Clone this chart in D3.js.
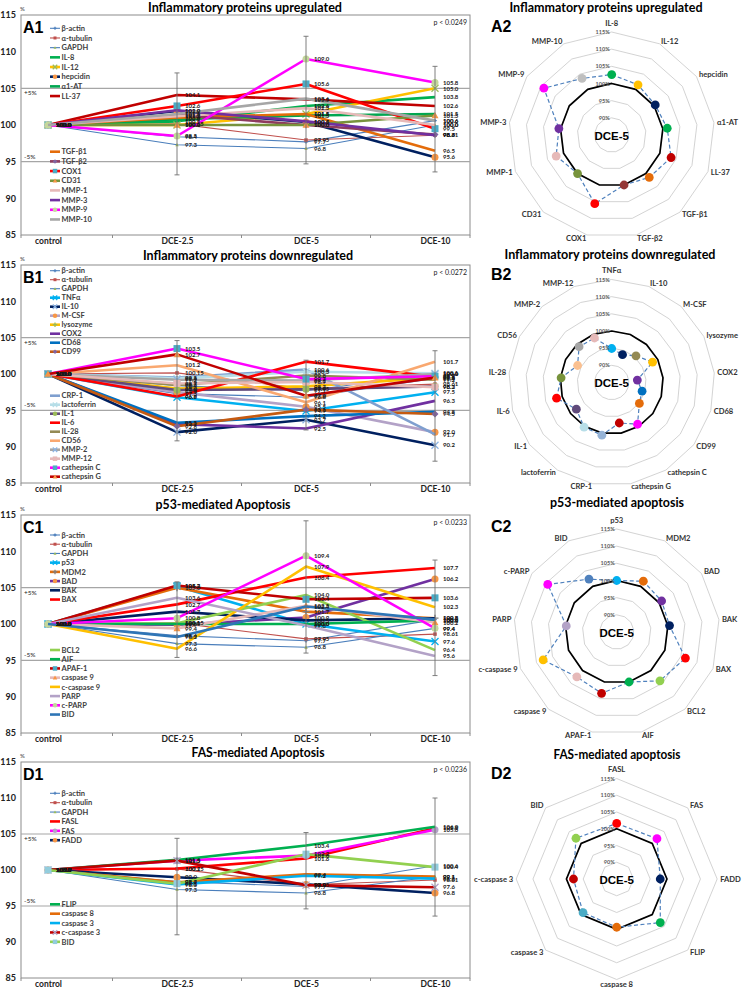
<!DOCTYPE html>
<html>
<head>
<meta charset="utf-8">
<script src="https://cdn.jsdelivr.net/npm/d3@7"></script>
<style>
html,body{margin:0;padding:0;background:#fff;}
svg{display:block;}
</style>
</head>
<body>
<svg id="chart" width="742" height="992"></svg>
<script>
// ================= DATA =================
const categories = ["control", "DCE-2.5", "DCE-5", "DCE-10"];
const yTickValues = [85, 90, 95, 100, 105, 110, 115];
const ringValues = [90, 95, 100, 105, 110, 115];
const ringLabels = ["90%", "95%", "100%", "105%", "110%", "115%"];

// ---- A: inflammatory proteins upregulated ----
const namesA = ["β-actin","α-tubulin","GAPDH","IL-8","IL-12","hepcidin","α1-AT","LL-37",
                "TGF-β1","TGF-β2","COX1","CD31","MMP-1","MMP-3","MMP-9","MMP-10"];
const valuesA = [
  [100, 98.4, 97.7, 100.6],
  [100, 100.15, 97.95, 98.61],
  [100, 97.3, 96.8, 100.0],
  [100, 100.5, 102.6, 103.8],
  [100, 100.0, 101.5, 105.0],
  [100, 101.9, 100.4, 95.6],
  [100, 100.8, 101.3, 101.5],
  [100, 104.1, 103.5, 102.6],
  [100, 101.0, 101.5, 96.5],
  [100, 101.4, 100.0, 98.7],
  [100, 102.6, 105.6, 99.5],
  [100, 100.0, 100.0, 101.3],
  [100, 101.2, 102.3, 100.0],
  [100, 102.0, 100.5, 98.6],
  [100, 98.5, 109.0, 105.8],
  [100, 101.5, 103.6, 100.6]
];
const errLowA = [null, 93.2, 94.7, 93.6];
const errHighA = [null, 107.1, 112.1, 108.0];
const pTextA = "p < 0.0249";
const radarAxesA = ["IL-8","IL-12","hepcidin","α1-AT","LL-37","TGF-β1","TGF-β2","COX1","CD31","MMP-1","MMP-3","MMP-9","MMP-10"];

// ---- B: inflammatory proteins downregulated ----
const namesB = ["β-actin","α-tubulin","GAPDH","TNFα","IL-10","M-CSF","lysozyme","COX2","CD68","CD99",
                "CRP-1","lactoferrin","IL-1","IL-6","IL-28","CD56","MMP-2","MMP-12","cathepsin C","cathepsin G"];
const valuesB = [
  [100, 98.4, 97.7, 100.0],
  [100, 100.15, 97.95, 98.61],
  [100, 97.3, 96.8, 99.4],
  [100, 96.8, 94.9, 97.5],
  [100, 92.0, 93.7, 90.2],
  [100, 97.5, 95.5, 92.0],
  [100, 98.0, 98.3, 99.5],
  [100, 93.1, 92.5, 96.3],
  [100, 93.3, 94.2, 94.8],
  [100, 92.8, 95.1, 94.5],
  [100, 99.5, 100.6, 91.7],
  [100, 99.4, 100.3, 100.1],
  [100, 97.8, 97.9, 98.3],
  [100, 96.9, 101.7, 99.6],
  [100, 98.5, 99.8, 99.2],
  [100, 101.2, 96.1, 101.7],
  [100, 99.2, 99.1, 100.0],
  [100, 98.7, 98.9, 98.2],
  [100, 103.5, 99.3, 99.7],
  [100, 102.7, 97.0, 99.5]
];
const errLowB = [null, 90.8, 92.3, 88.0];
const errHighB = [null, 104.6, 101.9, 103.2];
const pTextB = "p < 0.0272";
const radarAxesB = ["TNFα","IL-10","M-CSF","lysozyme","COX2","CD68","CD99","cathepsin C","cathepsin G",
                    "CRP-1","lactoferrin","IL-1","IL-6","IL-28","CD56","MMP-2","MMP-12"];

// ---- C: p53-mediated apoptosis ----
const namesC = ["β-actin","α-tubulin","GAPDH","p53","MDM2","BAD","BAK","BAX",
                "BCL2","AIF","APAF-1","caspase 9","c-caspase 9","PARP","c-PARP","BID"];
const valuesC = [
  [100, 98.4, 97.7, 100.6],
  [100, 100.15, 97.95, 98.61],
  [100, 97.3, 96.8, 99.4],
  [100, 105.2, 100.0, 97.6],
  [100, 105.0, 101.7, 100.8],
  [100, 99.9, 100.9, 106.2],
  [100, 101.7, 100.5, 100.8],
  [100, 102.7, 106.4, 107.7],
  [100, 100.1, 104.0, 96.4],
  [100, 100.0, 100.0, 100.5],
  [100, 105.3, 103.4, 103.6],
  [100, 99.4, 102.5, 100.2],
  [100, 96.6, 107.9, 102.3],
  [100, 103.6, 99.8, 95.6],
  [100, 100.8, 109.4, 99.4],
  [100, 98.2, 102.4, 100.6]
];
const errLowC = [null, 95.4, 96.0, 92.9];
const errHighC = [null, 105.8, 114.2, 108.8];
const pTextC = "p < 0.0233";
const radarAxesC = ["p53","MDM2","BAD","BAK","BAX","BCL2","AIF","APAF-1","caspase 9","c-caspase 9","PARP","c-PARP","BID"];

// ---- D: FAS-mediated apoptosis ----
const namesD = ["β-actin","α-tubulin","GAPDH","FASL","FAS","FADD",
                "FLIP","caspase 8","caspase 3","c-caspase 3","BID"];
const valuesD = [
  [100, 98.4, 97.7, 100.6],
  [100, 100.15, 97.95, 98.61],
  [100, 97.3, 96.8, 99.1],
  [100, 100.2, 101.6, 105.8],
  [100, 101.3, 102.0, 105.6],
  [100, 99.0, 98.0, 96.8],
  [100, 101.4, 103.4, 106.0],
  [100, 98.3, 99.4, 99.1],
  [100, 98.0, 99.2, 98.8],
  [100, 101.3, 97.9, 97.6],
  [100, 98.1, 102.2, 100.4]
];
const errLowD = [null, 91.0, 94.6, 93.6];
const errHighD = [null, 104.4, 105.2, 110.0];
const pTextD = "p < 0.0236";
const radarAxesD = ["FASL","FAS","FADD","FLIP","caspase 8","caspase 3","c-caspase 3","BID"];

// ================= STYLES =================
const lineColorsA = ["#4F81BD","#C0504D","#4A7EBB","#00B050","#FFC000","#002060","#00A650","#C00000",
                     "#E46C0A","#8E3B5E","#FF0000","#77933C","#E6B9B8","#7030A0","#FF00FF","#A6A6A6"];
const markersA = ["plus","square","triangle",null,"x","circle",null,null,null,"diamond","square","triangle",null,null,"circle",null];
const markerColorsA = ["#4F81BD","#C0504D","#9BBB59",null,"#9BBB59","#F79646",null,null,null,"#8064A2","#4BACC6","#F79646",null,null,"#C4D79B",null];
const dotColorsA = ["#00B050","#FFC000","#002060","#00B050","#C00000","#E46C0A","#953735","#FF0000","#77933C","#E6B9B8","#7030A0","#FF00FF","#BFBFBF"];

const lineColorsB = ["#4F81BD","#C0504D","#4A7EBB","#00B0F0","#002060","#B3A2C7","#FFC000","#7030A0","#0070C0","#C55A11",
                     "#7F9FCF","#B7DEE8","#604A7B","#FF0000","#948A54","#F9A870","#A6A6A6","#E6B9B8","#FF00FF","#C00000"];
const markersB = ["plus","square","triangle","x","x","circle","plus",null,null,"diamond",
                  null,"x","circle",null,null,null,"x","square","square","triangle"];
const markerColorsB = ["#4F81BD","#C0504D","#9BBB59","#00B0F0","#8DB4E2","#F79646","#9BBB59",null,null,"#8064A2",
                       null,"#B7DEE8","#9BBB59",null,null,null,"#8DB4E2","#E6B9B8","#4BACC6","#F79646"];
const dotColorsB = ["#00B0F0","#002060","#948A54","#FFC000","#7030A0","#0070C0","#E46C0A","#FF00FF","#C00000",
                    "#95B3D7","#B7DEE8","#604A7B","#FF0000","#77933C","#FAC090","#A6A6A6","#E6B9B8"];

const lineColorsC = ["#4F81BD","#C0504D","#4A7EBB","#00B0F0","#E46C0A","#7030A0","#002060","#FF0000",
                     "#92D050","#00B050","#C00000","#E6B9B8","#FFC000","#B3A2C7","#FF00FF","#2E75B6"];
const markersC = ["plus","square","triangle","x","plus","circle",null,null,null,null,"square","triangle",null,null,"circle",null];
const markerColorsC = ["#4F81BD","#C0504D","#9BBB59","#00B0F0","#7F7F7F","#F79646",null,null,null,null,"#4BACC6","#F79646",null,null,"#C4D79B",null];
const dotColorsC = ["#00B0F0","#E46C0A","#7030A0","#002060","#FF0000","#92D050","#00B050","#C00000","#E6B9B8","#FFC000","#B3A2C7","#FF00FF","#4F81BD"];

const lineColorsD = ["#4F81BD","#C0504D","#4A7EBB","#FF0000","#FF00FF","#002060","#00B050","#E46C0A","#00B0F0","#C00000","#92D050"];
const markersD = ["plus","square","triangle",null,"circle","circle",null,null,null,"x","square"];
const markerColorsD = ["#4F81BD","#C0504D","#9BBB59",null,"#B3A2C7","#F79646",null,null,null,"#B3A2C7","#93CDDD"];
const dotColorsD = ["#FF0000","#FF00FF","#002060","#00B050","#E46C0A","#4BACC6","#C00000","#92D050"];

// ================= DRAWING =================
const svg = d3.select("#chart");
const SANS = "Lato, 'Open Sans', sans-serif";
const ARIAL = "'Liberation Sans', Arial, sans-serif";

function drawMarker(g, type, x, y, color, s) {
  if (!type) return;
  const h = s / 2;
  if (type === "circle") {
    g.append("circle").attr("cx", x).attr("cy", y).attr("r", h).attr("fill", color);
  } else if (type === "square") {
    g.append("rect").attr("x", x - h).attr("y", y - h).attr("width", s).attr("height", s).attr("fill", color);
  } else if (type === "triangle") {
    g.append("path").attr("d", `M${x},${y - h}L${x + h},${y + h * 0.8}L${x - h},${y + h * 0.8}Z`).attr("fill", color);
  } else if (type === "diamond") {
    g.append("path").attr("d", `M${x},${y - h}L${x + h},${y}L${x},${y + h}L${x - h},${y}Z`).attr("fill", color);
  } else if (type === "x") {
    g.append("path").attr("d", `M${x - h},${y - h}L${x + h},${y + h}M${x - h},${y + h}L${x + h},${y - h}`)
      .attr("stroke", color).attr("stroke-width", 1.3).attr("fill", "none");
  } else if (type === "plus") {
    g.append("path").attr("d", `M${x - h},${y}L${x + h},${y}M${x},${y - h}L${x},${y + h}`)
      .attr("stroke", color).attr("stroke-width", 1.3).attr("fill", "none");
  }
}

function fmt(v) {
  return Math.abs(v * 10 - Math.round(v * 10)) < 1e-6 ? v.toFixed(1) : v.toFixed(2);
}

function fitTitle(g, txt, cx, baseline, w, size) {
  const t = g.append("text").attr("x", cx).attr("y", baseline).attr("text-anchor", "middle")
    .attr("font-family", SANS).attr("font-weight", "bold").attr("font-size", size).attr("fill", "#000").text(txt);
  t.attr("textLength", w).attr("lengthAdjust", "spacingAndGlyphs");
}

function linePanel(cfg) {
  const { top, height, names, values, colors, markers, markerColors, errLow, errHigh,
          pText, label, legY, legStep, split, title, titleCx, titleW, titleY } = cfg;
  const left = 21, right = 470, bottom = top + height;
  const g = svg.append("g");
  const y = d3.scaleLinear().domain([85, 115]).range([bottom, top]);
  const x = d3.scalePoint().domain(categories).range([48, 435]);

  fitTitle(g, title, titleCx, titleY, titleW, 12.5);

  // frame
  g.append("rect").attr("x", left).attr("y", top).attr("width", right - left).attr("height", height)
    .attr("fill", "none").attr("stroke", "#8c8c8c").attr("stroke-width", 1);
  // +-5% lines
  [105, 95].forEach(v => g.append("line").attr("x1", left).attr("x2", right)
    .attr("y1", y(v)).attr("y2", y(v)).attr("stroke", "#a6a6a6").attr("stroke-width", 1.1));
  g.append("text").attr("x", 24).attr("y", y(105) + 7).attr("font-family", SANS).attr("font-size", 6.5).attr("fill", "#222").text("+5%");
  g.append("text").attr("x", 24).attr("y", y(95) - 3).attr("font-family", SANS).attr("font-size", 6.5).attr("fill", "#222").text("-5%");

  // y axis
  const ya = g.append("g").attr("transform", `translate(${left},0)`)
    .call(d3.axisLeft(y).tickValues(yTickValues).tickSize(0).tickPadding(5));
  ya.select(".domain").remove();
  ya.selectAll("text").attr("font-family", SANS).attr("font-weight", "bold").attr("font-size", 9).attr("fill", "#222");
  g.append("text").attr("x", 20).attr("y", top - 4).attr("font-family", SANS).attr("font-size", 6).attr("fill", "#333").text("%");

  // x axis
  const xa = g.append("g").attr("transform", `translate(0,${bottom})`)
    .call(d3.axisBottom(x).tickSize(0).tickPadding(3));
  xa.select(".domain").remove();
  xa.selectAll("text").attr("font-family", SANS).attr("font-weight", "bold").attr("font-size", 8.5).attr("fill", "#222");
  const step = x.step();
  [x(categories[0]) - 27, ...categories.slice(1).map(c => x(c) - step / 2), right].forEach(tx => {
    g.append("line").attr("x1", tx).attr("x2", tx).attr("y1", bottom).attr("y2", bottom + 3)
      .attr("stroke", "#8c8c8c").attr("stroke-width", 1);
  });

  // panel label and p value
  g.append("text").attr("x", 23).attr("y", top + 18).attr("font-family", ARIAL).attr("font-weight", "bold")
    .attr("font-size", 16).attr("fill", "#000").text(label);
  g.append("text").attr("x", right - 3).attr("y", top + 10).attr("text-anchor", "end").attr("font-family", SANS)
    .attr("font-size", 7).attr("fill", "#222").text(pText);

  // series
  const line = d3.line().x((d, i) => x(categories[i])).y(d => y(d));
  const sg = g.append("g");
  values.forEach((vals, si) => {
    const thin = si < 3;
    sg.append("path").attr("d", line(vals)).attr("fill", "none").attr("stroke", colors[si])
      .attr("stroke-width", thin ? 1.1 : 2.6).attr("stroke-linejoin", "round");
    vals.forEach((v, i) => drawMarker(sg, markers[si], x(categories[i]), y(v), markerColors[si], thin ? 3.5 : 7));
  });

  // error bars
  categories.forEach((c, i) => {
    if (errLow[i] == null) return;
    const cx = x(c);
    g.append("line").attr("x1", cx).attr("x2", cx).attr("y1", y(errLow[i])).attr("y2", y(errHigh[i]))
      .attr("stroke", "#6f6f6f").attr("stroke-width", 0.9);
    [errLow[i], errHigh[i]].forEach(v => g.append("line").attr("x1", cx - 2.5).attr("x2", cx + 2.5)
      .attr("y1", y(v)).attr("y2", y(v)).attr("stroke", "#6f6f6f").attr("stroke-width", 0.9));
  });

  // data labels
  const lg = g.append("g");
  values.forEach(vals => vals.forEach((v, i) => {
    lg.append("text").attr("x", x(categories[i]) + 8).attr("y", y(v) + 2.2)
      .attr("font-family", SANS).attr("font-weight", "bold").attr("font-size", 6).attr("fill", "#1a1a1a").text(fmt(v));
  }));

  // legend
  names.forEach((n, si) => {
    const grp = si < split ? 0 : 1;
    const k = si < split ? si : si - split;
    const yy = legY[grp] + k * legStep;
    const thin = si < 3;
    g.append("line").attr("x1", 50).attr("x2", 60).attr("y1", yy).attr("y2", yy)
      .attr("stroke", colors[si]).attr("stroke-width", thin ? 1.1 : 2.6);
    drawMarker(g, markers[si], 55, yy, markerColors[si], thin ? 3 : 4.5);
    g.append("text").attr("x", 61.5).attr("y", yy + 2.7).attr("font-family", SANS).attr("font-weight", "bold")
      .attr("font-size", 7.5).attr("fill", "#404040").text(n);
  });
}

function radarPanel(cfg) {
  const { cx, cy, radius, axes, names, values, dotColors, title, titleCx, titleW, titleY, label, labelY } = cfg;
  const g = svg.append("g");
  const r = d3.scaleLinear().domain([85, 115]).range([0, radius]);
  const n = axes.length;
  const ang = i => -Math.PI / 2 + 2 * Math.PI * i / n;
  const pt = (i, v) => [cx + r(v) * Math.cos(ang(i)), cy + r(v) * Math.sin(ang(i))];
  const poly = d3.line().curve(d3.curveLinearClosed);
  const dce5 = categories.indexOf("DCE-5");
  const vals = axes.map(a => values[names.indexOf(a)][dce5]);

  fitTitle(g, title, titleCx, titleY, titleW, 12.5);
  g.append("text").attr("x", 491).attr("y", labelY).attr("font-family", ARIAL).attr("font-weight", "bold")
    .attr("font-size", 16).attr("fill", "#000").text(label);

  ringValues.forEach(v => g.append("path").attr("d", poly(axes.map((a, i) => pt(i, v))))
    .attr("fill", "none").attr("stroke", "#c8c8c8").attr("stroke-width", 0.8));
  g.append("path").attr("d", poly(axes.map((a, i) => pt(i, 100))))
    .attr("fill", "none").attr("stroke", "#000").attr("stroke-width", 1.7);
  g.append("path").attr("d", poly(vals.map((v, i) => pt(i, v))))
    .attr("fill", "none").attr("stroke", "#4F81BD").attr("stroke-width", 1.2).attr("stroke-dasharray", "4,2.5");
  vals.forEach((v, i) => {
    const [px, py] = pt(i, v);
    g.append("circle").attr("cx", px).attr("cy", py).attr("r", 4.4).attr("fill", dotColors[i]);
  });

  ringValues.forEach((v, k) => g.append("text").attr("x", cx - 2).attr("y", cy - r(v) + 2)
    .attr("text-anchor", "end").attr("font-family", SANS).attr("font-weight", "bold").attr("font-size", 5.5)
    .attr("fill", "#595959").text(ringLabels[k]));

  const Rl = radius + 3;
  axes.forEach((a, i) => {
    const an = ang(i);
    const c = Math.cos(an), s = Math.sin(an);
    const px = cx + Rl * c, py = cy + Rl * s;
    let anchor = "middle", by = py + 2.6;
    if (Math.abs(c) < 0.05) { by = s < 0 ? py - 3.5 : py + 4; }
    else anchor = c > 0 ? "start" : "end";
    g.append("text").attr("x", px).attr("y", by).attr("text-anchor", anchor).attr("font-family", SANS)
      .attr("font-weight", "bold").attr("font-size", 7.6).attr("fill", "#333").text(a);
  });

  g.append("text").attr("x", cx).attr("y", cy + 4.5).attr("text-anchor", "middle").attr("font-family", ARIAL)
    .attr("font-weight", "bold").attr("font-size", 11.5).attr("fill", "#000").text("DCE-5");
}

// ----- left line panels -----
linePanel({ top: 15, height: 220, names: namesA, values: valuesA, colors: lineColorsA, markers: markersA,
  markerColors: markerColorsA, errLow: errLowA, errHigh: errHighA, pText: pTextA, label: "A1",
  legY: [28.3, 151.7], legStep: 9.68, split: 8,
  title: "Inflammatory proteins upregulated", titleCx: 245, titleW: 194, titleY: 12 });
linePanel({ top: 265, height: 218, names: namesB, values: valuesB, colors: lineColorsB, markers: markersB,
  markerColors: markerColorsB, errLow: errLowB, errHigh: errHighB, pText: pTextB, label: "B1",
  legY: [270.7, 395.7], legStep: 9.0, split: 10,
  title: "Inflammatory proteins downregulated", titleCx: 248, titleW: 210, titleY: 260 });
linePanel({ top: 515, height: 218, names: namesC, values: valuesC, colors: lineColorsC, markers: markersC,
  markerColors: markerColorsC, errLow: errLowC, errHigh: errHighC, pText: pTextC, label: "C1",
  legY: [535, 650], legStep: 9.22, split: 8,
  title: "p53-mediated Apoptosis", titleCx: 223, titleW: 135, titleY: 508.5 });
linePanel({ top: 762, height: 216, names: namesD, values: valuesD, colors: lineColorsD, markers: markersD,
  markerColors: markerColorsD, errLow: errLowD, errHigh: errHighD, pText: pTextD, label: "D1",
  legY: [793.3, 904.3], legStep: 9.38, split: 6,
  title: "FAS-mediated Apoptosis", titleCx: 258, titleW: 133, titleY: 756.5 });

// ----- right radar panels -----
radarPanel({ cx: 611.7, cy: 135, radius: 103, axes: radarAxesA, names: namesA, values: valuesA, dotColors: dotColorsA,
  title: "Inflammatory proteins upregulated", titleCx: 606, titleW: 193, titleY: 12, label: "A2", labelY: 32 });
radarPanel({ cx: 611.7, cy: 382.5, radius: 103, axes: radarAxesB, names: namesB, values: valuesB, dotColors: dotColorsB,
  title: "Inflammatory proteins downregulated", titleCx: 610, titleW: 211, titleY: 258.5, label: "B2", labelY: 280 });
radarPanel({ cx: 616.7, cy: 632, radius: 103, axes: radarAxesC, names: namesC, values: valuesC, dotColors: dotColorsC,
  title: "p53-mediated apoptosis", titleCx: 617, titleW: 134, titleY: 506.5, label: "C2", labelY: 532 });
radarPanel({ cx: 616.7, cy: 879, radius: 100.5, axes: radarAxesD, names: namesD, values: valuesD, dotColors: dotColorsD,
  title: "FAS-mediated apoptosis", titleCx: 617, titleW: 127, titleY: 758.5, label: "D2", labelY: 779 });
</script>
</body>
</html>
